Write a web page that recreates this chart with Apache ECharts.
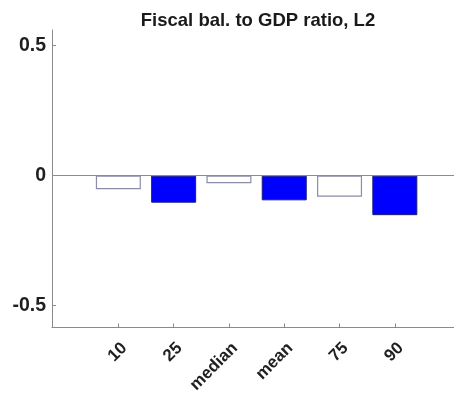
<!DOCTYPE html>
<html>
<head>
<meta charset="utf-8">
<script src="https://cdn.jsdelivr.net/npm/echarts@6/dist/echarts.min.js"></script>
<style>
  html, body { margin: 0; padding: 0; background: #fff; }
  #chart { width: 454px; height: 396px; }
</style>
</head>
<body>
<div id="chart"></div>
<script>
// Distribution statistics of the fiscal balance to GDP ratio (L2)
const categories = ['10', '25', 'median', 'mean', '75', '90'];
const values = [-0.052, -0.104, -0.029, -0.095, -0.081, -0.152];
const filled = [false, true, false, true, false, true];
const yTicks = [-0.5, 0, 0.5];

const positions = categories.map((c, i) => i + 1);
const font = 'Liberation Sans, Arial, Helvetica, sans-serif';
const axisColor = '#8a8a8a';

const barData = values.map((v, i) => ({
  value: [positions[i], v],
  itemStyle: filled[i]
    ? { color: '#0000ff', borderColor: '#1c1c7a', borderWidth: 1 }
    : { color: '#ffffff', borderColor: '#8c8ca8', borderWidth: 1.2 }
}));

const chart = echarts.init(document.getElementById('chart'), null, { renderer: 'canvas' });
chart.setOption({
  animation: false,
  backgroundColor: '#ffffff',
  title: {
    text: 'Fiscal bal. to GDP ratio, L2',
    left: 253, textAlign: 'center', top: 6,
    textStyle: { fontFamily: font, fontSize: 18.5, fontWeight: 'bold', color: '#1a1a1a' }
  },
  grid: { left: 52, right: 0, top: 30, bottom: 68.5, containLabel: false },
  xAxis: {
    type: 'value', min: -0.2, max: 7.07,
    splitLine: { show: false },
    axisLine: { show: true, onZero: false, lineStyle: { color: axisColor, width: 1 } },
    axisTick: { show: true, inside: true, length: 4, customValues: positions, lineStyle: { color: axisColor } },
    axisLabel: {
      customValues: positions, rotate: 45, margin: 12, verticalAlign: 'top',
      fontFamily: font, fontSize: 17, fontWeight: 'bold', color: '#1f1f1f',
      formatter: v => categories[Math.round(v) - 1] || ''
    }
  },
  yAxis: {
    type: 'value', min: -0.584, max: 0.56,
    splitLine: { show: false },
    axisLine: { show: true, onZero: false, lineStyle: { color: axisColor, width: 1 } },
    axisTick: { show: true, inside: true, length: 4, customValues: yTicks, lineStyle: { color: axisColor } },
    axisLabel: {
      customValues: yTicks, margin: 6,
      fontFamily: font, fontSize: 19.5, fontWeight: 'bold', color: '#1f1f1f',
      formatter: v => (v === 0 ? '0' : String(v))
    }
  },
  series: [{
    type: 'bar',
    barWidth: 45,
    data: barData,
    markLine: {
      silent: true, symbol: 'none', label: { show: false },
      lineStyle: { color: '#8c8c8c', type: 'solid', width: 1 },
      data: [{ yAxis: 0 }]
    }
  }]
});
</script>
</body>
</html>
